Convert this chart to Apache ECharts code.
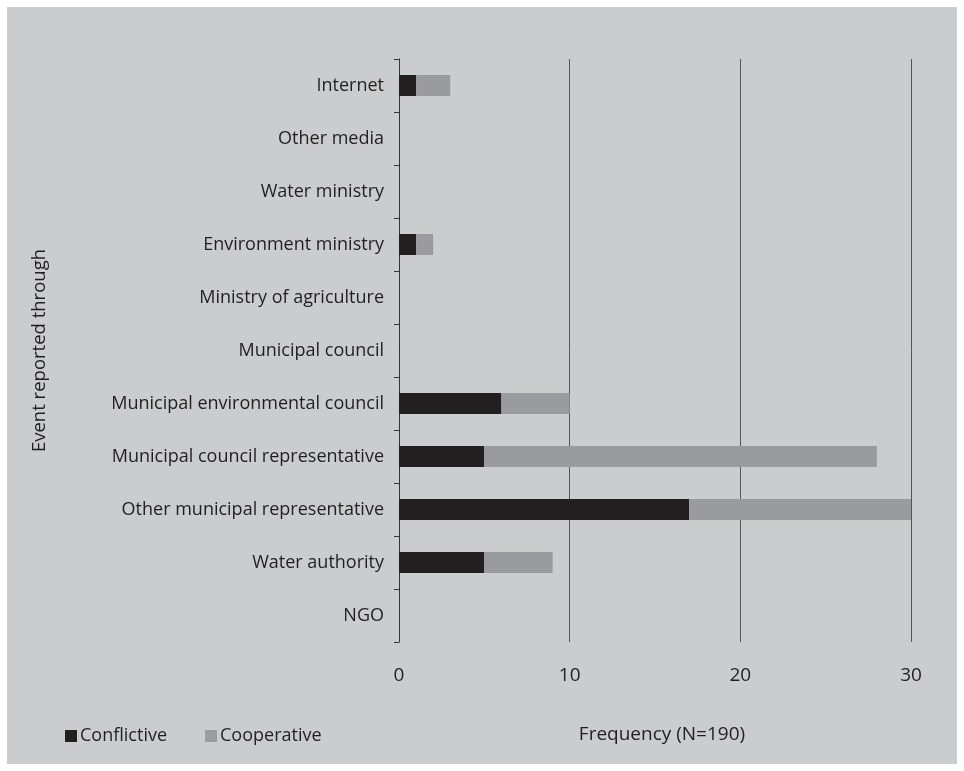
<!DOCTYPE html>
<html>
<head>
<meta charset="utf-8">
<script src="https://cdn.jsdelivr.net/npm/echarts@6/dist/echarts.min.js"></script>
<style>
html,body{margin:0;padding:0;background:#ffffff;}
#frame{position:absolute;left:7px;top:7px;width:950px;height:757px;background:#cbcccd;}
#chart{position:absolute;left:0;top:0;width:964px;height:771px;}
</style>
</head>
<body>
<div id="frame"></div>
<div id="chart"></div>
<script>
const categories = ["NGO","Water authority","Other municipal representative","Municipal council representative","Municipal environmental council","Municipal council","Ministry of agriculture","Environment ministry","Water ministry","Other media","Internet"];
const conflictive = [0,5,17,5,6,0,0,1,0,0,1];
const cooperative = [0,4,13,23,4,0,0,1,0,0,2];
const xTicks = [0,10,20,30];

const font = "Open Sans";
const chart = echarts.init(document.getElementById('chart'), null, {renderer:'canvas'});
chart.setOption({
  backgroundColor: 'transparent',
  animation: false,
  grid: {left: 399, right: 53, top: 59, bottom: 129, containLabel: false},
  legend: {
    left: 60, top: 722,
    itemWidth: 12, itemHeight: 12, itemGap: 38,
    icon: 'rect',
    textStyle: {fontFamily: font, fontSize: 18, color: '#231f20', padding:[0,0,0,-2]},
    data: ['Conflictive','Cooperative']
  },
  xAxis: {
    type: 'value', min: 0, max: 30, interval: 10,
    name: 'Frequency (N=190)', nameLocation: 'middle', nameGap: 83,
    nameTextStyle: {fontFamily: font, fontSize: 19, color: '#231f20', padding:[0,0,0,14]},
    axisLine: {show: false},
    axisTick: {show: false},
    axisLabel: {fontFamily: font, fontSize: 19, color: '#231f20', margin: 24,
      formatter: v => xTicks.includes(v) ? String(v) : ''},
    splitLine: {show: true, lineStyle: {color: '#555555', width: 1}}
  },
  yAxis: {
    type: 'category', data: categories,
    name: 'Event reported through', nameLocation: 'middle', nameGap: 350,
    nameTextStyle: {fontFamily: font, fontSize: 18.5, color: '#231f20'},
    axisLine: {show: true, onZero: false, lineStyle: {color: '#333333', width: 1}},
    axisTick: {show: true, length: 5, inside: false, lineStyle: {color: '#333333'}},
    axisLabel: {fontFamily: font, fontSize: 18, color: '#231f20', margin: 15}
  },
  series: [
    {name: 'Conflictive', type: 'bar', stack: 'a', data: conflictive, barWidth: 21,
      itemStyle: {color: '#231f20'}},
    {name: 'Cooperative', type: 'bar', stack: 'a', data: cooperative, barWidth: 21,
      itemStyle: {color: '#9a9b9e'}}
  ]
});
</script>
</body>
</html>
